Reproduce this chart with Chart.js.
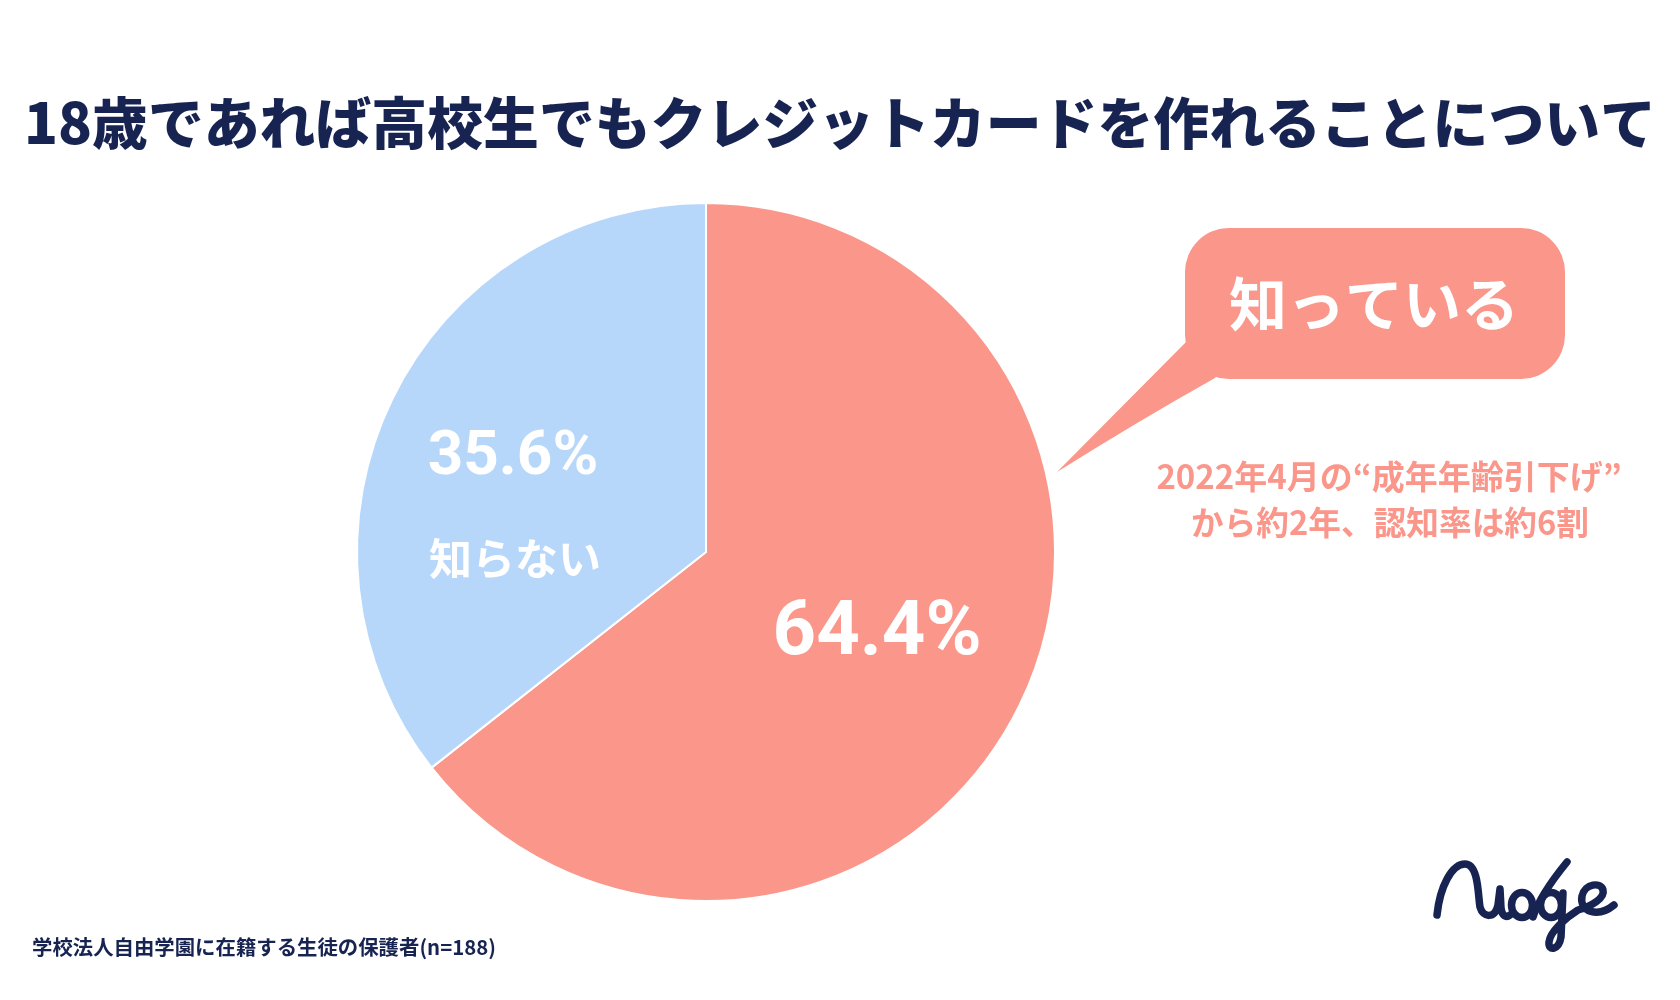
<!DOCTYPE html>
<html lang="ja">
<head>
<meta charset="utf-8">
<title>18歳であれば高校生でもクレジットカードを作れることについて</title>
<script src="https://cdn.jsdelivr.net/npm/chart.js@4.4.1/dist/chart.umd.min.js"></script>
<style>
  html, body { margin: 0; padding: 0; background: #fff; }
  #wrap { width: 1680px; height: 1000px; }
</style>
</head>
<body>
<div id="wrap"><canvas id="myChart" width="1680" height="1000"></canvas></div>
<script>
const titleText = '18歳であれば高校生でもクレジットカードを作れることについて';
const categories = ['知っている', '知らない'];
const shares = [64.4, 35.6];
const sliceColors = ['#fa968a', '#b7d7fa'];
const noteLines = ['2022年4月の“成年年齢引下げ”', 'から約2年、認知率は約6割'];
const sourceText = '学校法人自由学園に在籍する生徒の保護者(n=188)';

const navy = '#172452';
const jp = '"Noto Sans CJK JP", "Noto Sans", sans-serif';

// text, bubble and logo drawn on top of the pie
const decorations = {
    id: 'decorations',
    afterDatasetsDraw(chart) {
        const ctx = chart.ctx;
        const meta = chart.getDatasetMeta(0);
        ctx.save();

        // title
        ctx.fillStyle = navy;
        ctx.textAlign = 'center';
        ctx.textBaseline = 'middle';
        ctx.font = '900 56px ' + jp;
        ctx.fillText(titleText, 840, 123, 1632);

        // slice labels
        const labelRadius = [0.545, 0.615];
        const pctSize = [76, 62];
        meta.data.forEach((arc, i) => {
            const mid = (arc.startAngle + arc.endAngle) / 2;
            const x = arc.x + Math.cos(mid) * arc.outerRadius * labelRadius[i];
            const y = arc.y + Math.sin(mid) * arc.outerRadius * labelRadius[i];
            ctx.fillStyle = '#fff';
            ctx.font = 'bold ' + pctSize[i] + 'px Roboto, "Liberation Sans", sans-serif';
            ctx.fillText(shares[i].toFixed(1) + '%', x, y);
            if (i == 1) {
                ctx.font = 'bold 43px ' + jp;
                ctx.fillText(categories[i], x + 2, y + 100);
            }
        });

        // speech bubble for the big slice
        ctx.fillStyle = sliceColors[0];
        ctx.beginPath();
        ctx.roundRect(1185, 228, 380, 151, 44);
        ctx.fill();
        ctx.beginPath();
        ctx.moveTo(1190, 338);
        ctx.lineTo(1057, 472);
        ctx.quadraticCurveTo(1140, 420, 1215, 378);
        ctx.lineTo(1230, 360);
        ctx.closePath();
        ctx.fill();
        ctx.fillStyle = '#fff';
        ctx.font = 'bold 58px ' + jp;
        ctx.fillText(categories[0], 1374, 304);

        // note under the bubble
        ctx.fillStyle = sliceColors[0];
        ctx.font = 'bold 33px ' + jp;
        ctx.fillText(noteLines[0], 1389, 476, 466);
        ctx.fillText(noteLines[1], 1390, 522, 398);

        // source
        ctx.fillStyle = navy;
        ctx.textAlign = 'left';
        ctx.font = 'bold 20.5px ' + jp;
        ctx.fillText(sourceText, 32, 947, 464);

        // nudge logo
        ctx.strokeStyle = navy;
        ctx.lineWidth = 7.5;
        ctx.lineCap = 'round';
        ctx.lineJoin = 'round';
        // n + u
        ctx.beginPath();
        ctx.moveTo(1437, 915);
        ctx.bezierCurveTo(1440, 886, 1452, 864, 1465, 864);
        ctx.bezierCurveTo(1479, 864, 1478, 897, 1480, 907);
        ctx.bezierCurveTo(1483, 918, 1495, 919, 1498, 905);
        ctx.lineTo(1500, 889);
        ctx.lineTo(1501, 908);
        ctx.bezierCurveTo(1502, 916, 1506, 918, 1510, 915);
        ctx.stroke();
        // d
        ctx.beginPath();
        ctx.ellipse(1522, 905, 10.5, 12.5, 0, 0, Math.PI * 2);
        ctx.stroke();
        ctx.beginPath();
        ctx.moveTo(1567, 862);
        ctx.quadraticCurveTo(1540, 895, 1533, 917);
        ctx.stroke();
        // g + e
        ctx.beginPath();
        ctx.ellipse(1551, 905, 10.5, 12.5, 0, 0, Math.PI * 2);
        ctx.stroke();
        ctx.beginPath();
        ctx.moveTo(1563, 893);
        ctx.lineTo(1561, 937);
        ctx.bezierCurveTo(1559, 950, 1548, 952, 1549, 942);
        ctx.bezierCurveTo(1550, 932, 1565, 918, 1578, 910);
        ctx.bezierCurveTo(1592, 906, 1605, 898, 1603, 890);
        ctx.bezierCurveTo(1601, 882, 1585, 883, 1582, 896);
        ctx.bezierCurveTo(1579, 912, 1598, 918, 1614, 905);
        ctx.stroke();

        ctx.restore();
    }
};

const ctx = document.getElementById('myChart');

new Chart(ctx, {
    type: 'pie',
    data: {
        labels: categories,
        datasets: [{
            data: shares,
            backgroundColor: sliceColors,
            borderColor: '#fff',
            borderWidth: 2
        }]
    },
    options: {
        responsive: false,
        animation: false,
        devicePixelRatio: 1,
        layout: {
            padding: { left: 356, right: 624, top: 202, bottom: 98 }
        },
        plugins: {
            legend: { display: false },
            tooltip: { enabled: false }
        }
    },
    plugins: [decorations]
});
</script>
</body>
</html>
